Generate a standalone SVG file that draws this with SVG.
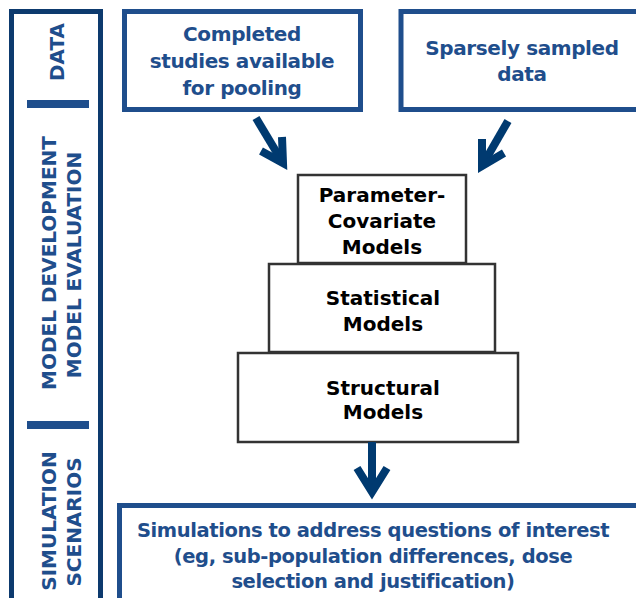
<svg xmlns="http://www.w3.org/2000/svg" width="636" height="598" viewBox="0 0 636 598">
<style>
.bt{font-family:"DejaVu Sans","Liberation Sans",sans-serif;font-weight:bold;font-size:20px;letter-spacing:-0.4px;fill:#1F4E8C;text-anchor:middle}
.st{font-size:19.5px}
.kt{font-family:"DejaVu Sans","Liberation Sans",sans-serif;font-weight:bold;font-size:20px;fill:#000;text-anchor:middle}
.lt{font-family:"DejaVu Sans","Liberation Sans",sans-serif;font-weight:bold;font-size:20px;fill:#1F4E8C;text-anchor:middle}
.bbox{fill:#fff;stroke:#1F4E8C;stroke-width:5}
.kbox{fill:#fff;stroke:#333;stroke-width:2.5}
.arr{fill:none;stroke:#003A70;stroke-width:8;stroke-linejoin:miter;stroke-linecap:butt}
</style>
<rect width="636" height="598" fill="#fff"/>
<g id="sidebar">
<rect x="11.5" y="11.5" width="89" height="600" fill="none" stroke="#0D3A6E" stroke-width="5"/>
<rect x="27" y="100" width="62" height="8" fill="#1F4E8C"/>
<rect x="27" y="421" width="62" height="8" fill="#1F4E8C"/>
<text class="lt" transform="translate(64,52) rotate(-90)">DATA</text>
<text class="lt" transform="translate(56,263) rotate(-90)">MODEL DEVELOPMENT</text>
<text class="lt" transform="translate(81,265) rotate(-90)">MODEL EVALUATION</text>
<text class="lt" transform="translate(56,521) rotate(-90)">SIMULATION</text>
<text class="lt" transform="translate(81,522) rotate(-90)">SCENARIOS</text>
</g>
<g id="completed">
<rect class="bbox" x="124.5" y="11.5" width="236" height="98"/>
<text class="bt" x="242" y="41">Completed</text>
<text class="bt" x="242" y="68">studies available</text>
<text class="bt" x="242" y="95">for pooling</text>
</g>
<g id="sparse">
<rect class="bbox" x="401" y="11.5" width="260" height="98"/>
<text class="bt" x="522" y="55">Sparsely sampled</text>
<text class="bt" x="522" y="81">data</text>
</g>
<g id="paramcov">
<rect class="kbox" x="298" y="175" width="168" height="88"/>
<text class="kt" x="382" y="202">Parameter-</text>
<text class="kt" x="382" y="228">Covariate</text>
<text class="kt" x="382" y="254">Models</text>
</g>
<g id="statistical">
<rect class="kbox" x="269" y="264" width="226" height="88"/>
<text class="kt" x="383" y="305">Statistical</text>
<text class="kt" x="383" y="331">Models</text>
</g>
<g id="structural">
<rect class="kbox" x="238" y="353" width="280" height="89"/>
<text class="kt" x="383" y="395">Structural</text>
<text class="kt" x="383" y="419">Models</text>
</g>
<g id="simulations">
<rect class="bbox" x="119.5" y="505.5" width="540" height="120"/>
<text class="bt st" x="373" y="537">Simulations to address questions of interest</text>
<text class="bt st" x="373" y="563">(eg, sub-population differences, dose</text>
<text class="bt st" x="373" y="588">selection and justification)</text>
</g>
<g id="connectors">
<line class="arr" x1="256" y1="118" x2="283" y2="163"/>
<polyline class="arr" points="261,151 283,163 282,137"/>
<line class="arr" x1="508" y1="121" x2="482" y2="166"/>
<polyline class="arr" points="482,139 482,166 504,153"/>
<line class="arr" x1="372" y1="442" x2="372" y2="492"/>
<polyline class="arr" points="357,468 372,492 387,468"/>
</g>
</svg>
